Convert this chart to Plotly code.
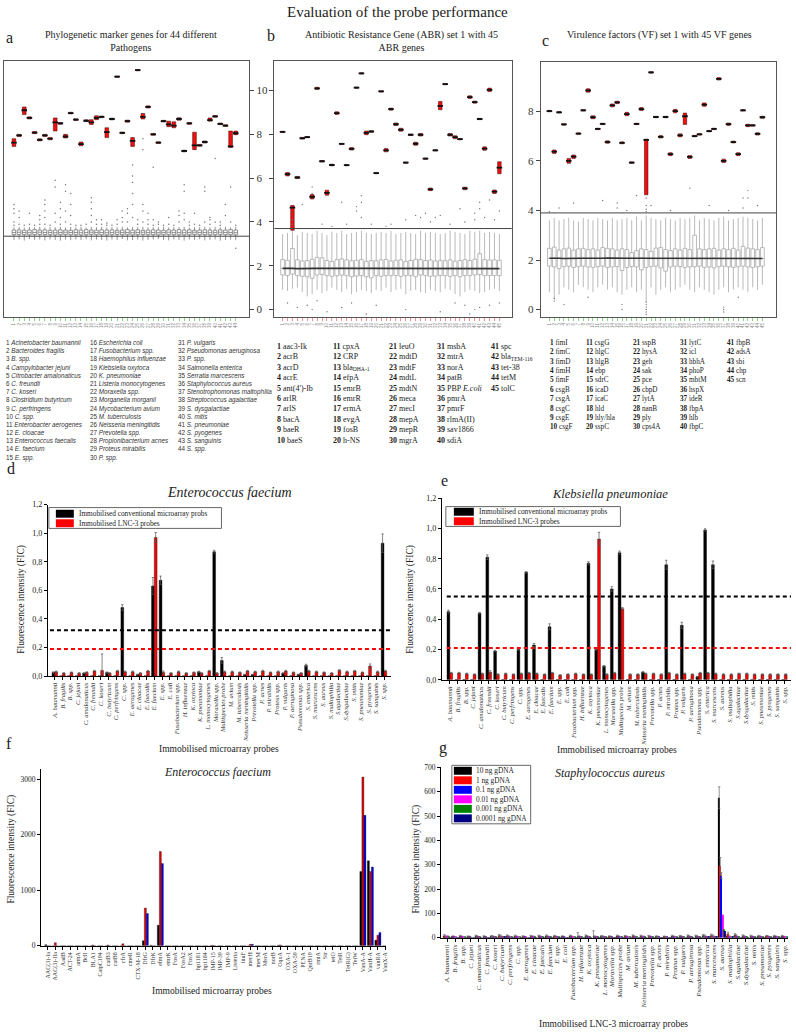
import plotly.graph_objects as go

W, H = 796, 1036
SERIF = "Liberation Serif"
SANS = "Liberation Sans"


def X(p):
    return p / W


def Y(p):
    return 1 - p / H


# ======================= DATA =======================
# ---- panel a : 44 pathogens (phylogenetic marker genes) ----
a_labels = [str(i) for i in range(1, 45)]
a_names = ["Acinetobacter baumannii", "Bacteroides fragilis", "B. spp.", "Campylobacter jejuni",
           "Citrobacter amalonaticus", "C. freundii", "C. koseri", "Clostridium butyricum",
           "C. perfringens", "C. spp.", "Enterobacter aerogenes", "E. cloacae",
           "Enterococcus faecalis", "E. faecium", "E. spp.", "Escherichia coli",
           "Fusobacterium spp.", "Haemophilus influenzae", "Klebsiella oxytoca", "K. pneumoniae",
           "Listeria monocytogenes", "Moraxella spp.", "Morganella morganii", "Mycobacterium avium",
           "M. tuberculosis", "Neisseria meningitidis", "Prevotella spp.", "Propionibacterium acnes",
           "Proteus mirabilis", "P. spp.", "P. vulgaris", "Pseudomonas aeruginosa", "P. spp.",
           "Salmonella enterica", "Serratia marcescens", "Staphylococcus aureus",
           "Stenotrophomonas maltophilia", "Streptococcus agalactiae", "S. dysgalactiae", "S. mitis",
           "S. pneumoniae", "S. pyogenes", "S. sanguinis", "S. spp."]
a_red_q1 = [7.45, 7.9, 8.9, 8.7, 8.03, 7.7, 7.9, 7.75, 8.15, 8.46, 7.83, 8.93, 8.63, 7.48, 8.58,
            8.45, 8.67, 8.76, 7.85, 8.66, 10.6, 8.03, 8.55, 7.45, 10.9, 8.7, 9.2, 7.96, 7.58, 8.56,
            8.35, 8.3, 8.64, 7.2, 8.46, 7.3, 7.46, 7.6, 8.6, 8.78, 8.44, 8.36, 7.4, 7.98]
a_red_med = [7.62, 7.95, 9.1, 8.75, 8.08, 7.75, 7.95, 7.8, 8.55, 8.5, 7.9, 8.97, 8.67, 7.55, 8.62,
             8.55, 8.75, 8.8, 8.1, 8.7, 10.63, 8.07, 8.6, 7.7, 10.93, 8.8, 9.25, 8.0, 7.62, 8.6,
             8.45, 8.4, 8.7, 7.24, 8.5, 7.5, 7.5, 7.65, 8.65, 8.82, 8.48, 8.4, 7.45, 8.05]
a_red_q3 = [7.8, 8.0, 9.25, 8.8, 8.13, 7.8, 8.0, 7.85, 8.75, 8.54, 8.0, 9.01, 8.71, 7.65, 8.66,
            8.67, 8.85, 8.84, 8.3, 8.74, 10.66, 8.11, 8.65, 7.85, 10.96, 8.95, 9.3, 8.04, 7.66, 8.64,
            8.6, 8.57, 8.76, 7.28, 8.54, 8.1, 7.54, 7.7, 8.75, 8.86, 8.52, 8.44, 8.15, 8.15]
a_grey_q1 = [3.42, 3.43, 3.42, 3.41, 3.42, 3.43, 3.42, 3.42, 3.41, 3.42, 3.43,
             3.42, 3.42, 3.41, 3.42, 3.43, 3.42, 3.42, 3.41, 3.42, 3.43, 3.42,
             3.42, 3.41, 3.42, 3.43, 3.42, 3.42, 3.41, 3.42, 3.43, 3.42, 3.42,
             3.41, 3.42, 3.43, 3.42, 3.42, 3.41, 3.42, 3.43, 3.42, 3.42, 3.41]
a_grey_med = [3.52, 3.53, 3.52, 3.51, 3.52, 3.53, 3.52, 3.52, 3.51, 3.52, 3.53,
              3.52, 3.52, 3.51, 3.52, 3.53, 3.52, 3.52, 3.51, 3.52, 3.53, 3.52,
              3.52, 3.51, 3.52, 3.53, 3.52, 3.52, 3.51, 3.52, 3.53, 3.52, 3.52,
              3.51, 3.52, 3.53, 3.52, 3.52, 3.51, 3.52, 3.53, 3.52, 3.52, 3.51]
a_grey_q3 = [3.63, 3.64, 3.62, 3.63, 3.65, 3.63, 3.64, 3.62, 3.63, 3.64, 3.63,
             3.62, 3.64, 3.63, 3.65, 3.63, 3.62, 3.64, 3.63, 3.64, 3.62, 3.63,
             3.65, 3.63, 3.64, 3.62, 3.63, 3.64, 3.63, 3.62, 3.64, 3.63, 3.65,
             3.63, 3.64, 3.62, 3.63, 3.64, 3.63, 3.62, 3.64, 3.63, 3.65, 3.63]
a_grey_lo = [3.18, 3.2, 3.15, 3.22, 3.18, 3.2, 3.16, 3.2, 3.18, 3.15, 3.2,
             3.17, 3.2, 3.18, 3.22, 3.16, 3.2, 3.18, 3.15, 3.2, 3.18, 3.22,
             3.16, 3.18, 3.2, 3.15, 3.18, 3.2, 3.22, 3.18, 3.16, 3.2, 3.18,
             3.15, 3.2, 3.18, 3.22, 3.16, 3.18, 3.2, 3.15, 3.18, 3.2, 3.17]
a_grey_hi = [3.76, 3.78, 3.75, 3.77, 3.76, 3.78, 3.75, 3.77, 3.76, 3.78, 3.75,
             3.77, 3.76, 3.78, 3.75, 3.77, 3.76, 3.78, 3.75, 3.77, 3.76, 3.78,
             3.75, 3.77, 3.76, 3.78, 3.75, 3.77, 3.76, 3.78, 3.75, 3.77, 3.76,
             3.78, 3.75, 3.77, 3.76, 3.78, 3.75, 3.77, 3.76, 3.78, 3.75, 3.77]
a_outliers = [[3.85, 4.0, 4.4, 4.6, 4.8], [3.9, 4.2, 4.5], [3.85], [3.9, 4.4], [3.85],
              [3.9, 4.1, 4.3], [3.9, 4.2, 4.5, 4.8, 5.0], [3.85], [4.0, 4.4, 5.6, 5.9],
              [3.9, 4.2, 4.6, 4.9], [4.0, 4.5, 5.4, 5.7], [3.9, 4.3, 4.8, 5.3], [3.85], [3.85],
              [3.9], [4.0, 4.3, 4.6, 4.9, 5.1], [3.9, 4.1], [3.9, 4.1], [3.85, 3.95], [3.85],
              [3.9, 4.1], [4.0, 4.2, 4.5], [4.0, 4.4, 4.6], [4.2, 4.8, 5.3, 5.8, 6.1, 6.6],
              [3.9, 4.1], [4.0, 4.5, 4.8, 7.3, 7.8], [3.9, 4.1, 4.4], [3.85, 4.1, 6.5],
              [3.9, 4.0], [3.85], [3.9, 4.2], [3.85], [4.0, 4.3, 4.5], [4.1, 4.4, 5.4, 5.7],
              [3.85, 4.0], [3.9, 4.4], [3.85], [4.0, 5.4, 5.6], [3.9, 4.1, 4.2], [4.0, 6.9],
              [3.85, 4.0], [4.3, 4.8], [4.0, 5.6], [3.85, 2.8]]
a_cutoff = 3.35

# ---- panel b : 45 ABR genes ----
b_labels = [str(i) for i in range(1, 46)]
b_names = ["aac3-Ik", "acrB", "acrD", "acrE", "ant(4')-Ib", "arlR", "arlS", "bacA", "baeR", "baeS",
           "cpxA", "CRP", "bla<sub>DHA-1</sub>", "efpA", "emrB", "emrR", "ermA", "evgA", "fosB", "h-NS",
           "leuO", "mdtD", "mdtF", "mdtL", "mdtN", "meca", "mecI", "mepA", "mepR", "mgrA",
           "msbA", "mtrA", "norA", "patB", "PBP <i>E.coli</i>", "pmrA", "pmrF", "rlmA(II)", "sav1866", "sdiA",
           "spc", "bla<sub>TEM-116</sub>", "tet-38", "tetM", "tolC"]
b_red_q1 = [8.08, 6.1, 3.62, 5.98, 7.79, 7.84, 5.05, 10.05, 6.74, 5.22, 6.56, 8.91, 7.53, 6.56, 7.28,
            10.1, 10.75, 7.98, 8.1, 6.2, 9.93, 7.2, 9.1, 8.4, 8.14, 6.68, 7.95, 7.5, 7.92, 6.86,
            5.43, 7.24, 9.12, 10.26, 7.92, 7.8, 7.75, 5.47, 9.64, 9.42, 8.67, 7.27, 9.95, 5.3, 6.2]
b_red_med = [8.11, 6.18, 4.65, 6.03, 7.82, 7.87, 5.15, 10.1, 6.77, 5.33, 6.6, 8.97, 7.56, 6.59, 7.34,
             10.13, 10.78, 8.07, 8.13, 6.23, 9.96, 7.27, 9.15, 8.46, 8.21, 6.71, 7.98, 7.57, 7.98, 6.89,
             5.49, 7.27, 9.3, 10.29, 7.98, 7.87, 7.78, 5.53, 9.7, 9.47, 8.7, 7.35, 10.03, 5.38, 6.48]
b_red_q3 = [8.14, 6.26, 4.75, 6.08, 7.86, 7.9, 5.25, 10.15, 6.8, 5.45, 6.64, 9.03, 7.59, 6.62, 7.4,
            10.16, 10.81, 8.15, 8.16, 6.26, 9.99, 7.35, 9.2, 8.52, 8.28, 6.74, 8.01, 7.64, 8.04, 6.92,
            5.55, 7.3, 9.5, 10.32, 8.04, 7.94, 7.81, 5.59, 9.76, 9.52, 8.73, 7.43, 10.11, 5.46, 6.75]
b_grey_q1 = [1.58, 1.55, 1.62, 1.55, 1.52, 1.5, 1.43, 1.58, 1.6, 1.55, 1.52, 1.55, 1.57, 1.55, 1.5,
             1.53, 1.55, 1.5, 1.45, 1.55, 1.52, 1.55, 1.55, 1.55, 1.52, 1.55, 1.55, 1.5, 1.58, 1.55,
             1.52, 1.53, 1.55, 1.55, 1.52, 1.55, 1.5, 1.55, 1.55, 1.58, 1.6, 1.55, 1.55, 1.55, 1.55]
b_grey_med = [1.88, 1.89, 1.88, 1.87, 1.88, 1.88, 1.89, 1.88, 1.88, 1.87, 1.88, 1.88, 1.89, 1.88, 1.88,
              1.87, 1.88, 1.88, 1.88, 1.89, 1.88, 1.88, 1.87, 1.88, 1.88, 1.88, 1.89, 1.88, 1.88, 1.87,
              1.88, 1.88, 1.88, 1.88, 1.89, 1.88, 1.87, 1.88, 1.88, 1.88, 1.88, 1.89, 1.88, 1.88, 1.87]
b_grey_q3 = [2.28, 2.25, 2.79, 2.27, 2.22, 2.24, 2.3, 2.38, 2.36, 2.24, 2.2, 2.28, 2.31, 2.27, 2.23,
             2.25, 2.28, 2.2, 2.24, 2.23, 2.27, 2.29, 2.22, 2.25, 2.27, 2.2, 2.24, 2.3, 2.28, 2.24,
             2.26, 2.22, 2.25, 2.23, 2.27, 2.21, 2.24, 2.28, 2.24, 2.3, 2.55, 2.28, 2.26, 2.27, 2.25]
b_grey_lo = [0.9, 0.85, 0.95, 1.0, 0.8, 0.6, 0.7, 0.9, 0.75, 0.85, 1.0, 0.9, 0.8, 0.95, 0.7,
             0.8, 0.9, 0.85, 0.75, 0.9, 0.85, 1.0, 0.8, 0.9, 0.95, 0.7, 0.85, 0.9, 0.8, 0.75,
             0.9, 0.85, 0.8, 0.95, 0.9, 0.7, 0.6, 0.8, 0.9, 0.85, 0.75, 0.8, 0.9, 0.95, 0.85]
b_grey_hi = [3.45, 3.5, 3.6, 3.4, 3.55, 3.5, 3.45, 3.6, 3.5, 3.4, 3.55, 3.5, 3.6, 3.45, 3.5,
             3.55, 3.6, 3.5, 3.45, 3.5, 3.55, 3.5, 3.6, 3.45, 3.5, 3.55, 3.5, 3.45, 3.6, 3.5,
             3.55, 3.5, 3.45, 3.5, 3.6, 3.55, 3.5, 3.45, 3.6, 3.55, 3.6, 3.5, 3.55, 3.5, 3.45]
b_out_cat = [3, 3, 5, 7, 7, 9, 11, 13, 14, 16, 16, 17, 17, 17, 19, 22, 23, 26, 28, 29, 30, 31, 32, 33,
             35, 37, 38, 40, 40, 41, 41, 42, 43, 44, 45,
             2, 4, 6, 7, 8, 10, 13, 15, 18, 20, 26, 33, 36, 38, 39, 40, 41, 43, 45]
b_out_val = [3.9, 4.1, 4.8, 5.3, 5.6, 3.9, 3.8, 4.9, 3.9, 4.7, 4.5, 4.2, 4.9, 5.2, 3.9, 3.8, 3.9, 4.1,
             4.3, 4.2, 4.4, 4.0, 4.2, 4.3, 3.9, 4.6, 4.0, 4.1, 4.4, 4.6, 4.9, 4.2, 5.0, 4.1, 4.5,
             0.3, 0.1, 0.2, 0.0, 0.4, -0.1, 0.1, 0.3, -0.2, 0.2, 0.0, -0.1, 0.3, 0.2, -0.2, 0.0, 0.1, 0.2, 0.3]
b_cutoff = 3.7

# ---- panel c : 45 VF genes ----
c_labels = [str(i) for i in range(1, 46)]
c_names = ["fimI", "fimC", "fimD", "fimH", "fimF", "csgB", "csgA", "csgC", "csgE", "csgF",
           "csgG", "hlgC", "hlgB", "ebp", "sdrC", "icaD", "icaC", "hld", "hly/hla", "sspC",
           "sspB", "hysA", "geh", "sak", "pce", "cbpD", "lytA", "nanB", "ply", "cps4A",
           "lytC", "icl", "hbhA", "phoP", "mbtM", "hspX", "ideR", "fbpA", "hlb", "fbpC",
           "fbpB", "adsA", "sbi", "chp", "scn"]
c_red_q1 = [7.98, 6.3, 7.93, 7.44, 5.9, 6.1, 7.07, 8.01, 8.77, 7.7, 7.26, 7.46, 6.71, 8.18, 8.31,
            6.69, 7.82, 5.9, 7.46, 8.03, 4.63, 9.54, 7.74, 6.92, 7.74, 6.21, 7.94, 6.97, 7.47, 6.1,
            6.97, 7.04, 8.2, 7.17, 7.26, 9.26, 5.93, 7.43, 6.72, 6.21, 8.01, 7.38, 7.4, 7.04, 7.72]
c_red_med = [8.01, 6.37, 7.96, 7.47, 6.0, 6.17, 7.1, 8.04, 8.84, 7.76, 7.29, 7.49, 6.76, 8.24, 8.36,
             6.73, 7.89, 5.93, 7.49, 8.09, 6.85, 9.57, 7.77, 6.97, 7.77, 6.27, 8.01, 7.03, 7.8, 6.16,
             7.0, 7.07, 8.27, 7.2, 7.29, 9.31, 6.0, 7.48, 6.76, 6.27, 8.04, 7.43, 7.43, 7.09, 7.76]
c_red_q3 = [8.04, 6.44, 7.99, 7.5, 6.1, 6.24, 7.13, 8.07, 8.91, 7.82, 7.32, 7.52, 6.81, 8.3, 8.41,
            6.77, 7.96, 5.96, 7.52, 8.15, 6.88, 9.6, 7.8, 7.02, 7.8, 6.33, 8.08, 7.09, 7.93, 6.22,
            7.03, 7.1, 8.34, 7.23, 7.32, 9.36, 6.07, 7.53, 6.8, 6.33, 8.07, 7.48, 7.46, 7.14, 7.8]
c_grey_q1 = [1.75, 1.72, 1.65, 1.73, 1.75, 1.7, 1.73, 1.75, 1.72, 1.7, 1.73, 1.75, 1.7, 1.72, 1.73,
             1.58, 1.7, 1.73, 1.72, 1.6, 1.7, 1.73, 1.75, 1.68, 1.55, 1.72, 1.75, 1.73, 1.7, 1.72,
             1.73, 1.75, 1.7, 1.72, 1.68, 1.73, 1.75, 1.72, 1.7, 1.73, 1.75, 1.72, 1.7, 1.73, 1.75]
c_grey_med = [2.07, 2.08, 2.07, 2.06, 2.07, 2.07, 2.08, 2.07, 2.07, 2.06, 2.07, 2.07, 2.08, 2.07, 2.07,
              2.06, 2.07, 2.07, 2.07, 2.08, 2.07, 2.07, 2.06, 2.07, 2.07, 2.07, 2.08, 2.07, 2.07, 2.06,
              2.07, 2.07, 2.07, 2.07, 2.08, 2.07, 2.06, 2.07, 2.07, 2.07, 2.07, 2.08, 2.07, 2.07, 2.06]
c_grey_q3 = [2.47, 2.52, 2.4, 2.45, 2.48, 2.4, 2.45, 2.47, 2.42, 2.45, 2.4, 2.5, 2.47, 2.45, 2.4,
             2.45, 2.42, 2.3, 2.38, 2.45, 2.42, 2.35, 2.48, 2.5, 2.42, 2.38, 2.45, 2.4, 2.47, 2.42,
             3.0, 2.45, 2.42, 2.45, 2.47, 2.4, 2.45, 2.42, 2.47, 2.4, 2.55, 2.48, 2.45, 2.42, 2.5]
c_grey_lo = [0.7, 0.4, 0.6, 0.9, 0.8, 0.7, 1.0, 0.9, 0.8, 0.7, 0.9, 1.0, 0.8, 0.9, 0.7,
             0.6, 0.8, 0.9, 0.7, 0.8, 0.3, 0.9, 0.6, 0.8, 0.9, 0.7, 0.8, 0.9, 1.0, 0.8,
             0.7, 0.9, 0.8, 0.7, 0.6, 0.8, 0.9, 0.7, 0.8, 0.9, 0.8, 0.7, 0.9, 0.8, 1.0]
c_grey_hi = [3.6, 3.7, 3.6, 3.65, 3.7, 3.6, 3.55, 3.7, 3.65, 3.6, 3.7, 3.65, 3.6, 3.7, 3.6,
             3.65, 3.7, 3.6, 3.75, 3.6, 3.8, 3.7, 3.65, 3.6, 3.7, 3.65, 3.6, 3.7, 3.65, 3.7,
             3.8, 3.6, 3.7, 3.65, 3.6, 3.7, 3.75, 3.6, 3.65, 3.7, 3.75, 3.7, 3.65, 3.6, 3.7]
c_out_cat = [21, 21, 21, 21, 21, 21, 21, 21, 21, 21, 2, 2, 4, 9, 16, 16, 37, 37, 37, 40,
             1, 3, 6, 12, 15, 15, 17, 19, 22, 26, 30, 34, 38, 41, 41, 42, 42, 44]
c_out_val = [0.0, 0.1, 0.2, -0.1, 3.95, 4.05, 4.2, 4.5, 0.3, -0.2, 0.35, 0.45, 0.2, 0.5, 0.2, 0.0,
             0.0, -0.1, 0.1, 0.5,
             3.95, 4.1, 4.3, 4.4, 4.1, 4.3, 4.0, 4.6, 4.2, 4.0, 4.9, 4.2, 4.0, 4.1, 4.5, 4.5, 4.8, 4.2]
c_cutoff = 3.9

# ---- panels d, e, g : 44 probe targets ----
probe_names = ["A. baumannii", "B. fragilis", "B. spp.", "C. jejuni", "C. amalonaticus", "C. freundii",
               "C. koseri", "C. butyricum", "C. perfringens", "C. spp.", "E. aerogenes", "E. cloacae",
               "E. faecalis", "E. faecium", "E. spp.", "E. coli", "Fusobacterium spp.", "H. influenzae",
               "K. oxytoca", "K. pneumoniae", "L. monocytogenes", "Moraxella spp.", "Multispecies probe",
               "M. avium", "M. tuberculosis", "Neisseria meningitidis", "Prevotella spp.", "P. acnes",
               "P. mirabilis", "Proteus spp.", "P. vulgaris", "P. aeruginosa", "Pseudomonas spp.",
               "S. enterica", "S. marcescens", "S. aureus", "S. maltophilia", "S.agalactiae",
               "S.dysgalactiae", "S. mitis", "S. pneumoniae", "S. pyogenes", "S. sanguinis", "S. spp."]
probe_series = ["Immobilised conventional microarray probs", "Immobilised LNC-3 probes"]

d_black = [0.025, 0, 0, 0, 0.02, 0, 0, 0.025, 0, 0.48,
           0, 0.01, 0, 0.63, 0.67, 0, 0, 0, 0, 0.03,
           0, 0.87, 0.11, 0, 0, 0.01, 0.01, 0, 0, 0,
           0.02, 0, 0.01, 0.075, 0, 0, 0, 0, 0, 0,
           0, 0, 0, 0.93]
d_red = [0.03, 0.02, 0.025, 0.02, 0.025, 0.035, 0.04, 0.02, 0.035, 0.03,
         0.03, 0.02, 0.035, 0.97, 0.025, 0.02, 0.03, 0.02, 0.025, 0.02,
         0.035, 0.02, 0.03, 0.03, 0.025, 0.035, 0.03, 0.035, 0.025, 0.03,
         0.035, 0.025, 0.02, 0.035, 0.03, 0.025, 0.02, 0.04, 0.03, 0.035,
         0.025, 0.07, 0.03, 0.035]
d_err_black = [0.005, 0, 0, 0, 0.004, 0, 0, 0.004, 0, 0.02,
               0, 0.003, 0, 0.06, 0.03, 0, 0, 0, 0, 0.004,
               0, 0.01, 0.02, 0, 0, 0.003, 0.003, 0, 0, 0,
               0.004, 0, 0.003, 0.008, 0, 0, 0, 0, 0, 0,
               0, 0, 0, 0.065]
d_err_red = [0.005, 0.004, 0.004, 0.004, 0.005, 0.005, 0.115, 0.004, 0.005, 0.005,
             0.005, 0.004, 0.005, 0.035, 0.01, 0.004, 0.005, 0.004, 0.004, 0.004,
             0.005, 0.004, 0.005, 0.005, 0.004, 0.005, 0.005, 0.006, 0.004, 0.005,
             0.005, 0.004, 0.004, 0.005, 0.005, 0.004, 0.004, 0.005, 0.005, 0.005,
             0.004, 0.015, 0.005, 0.006]
d_thresholds = [0.32, 0.19]

e_black = [0.45, 0, 0, 0, 0.44, 0.81, 0.19, 0, 0, 0.20,
           0.71, 0.23, 0, 0.35, 0, 0, 0, 0, 0.77, 0.20,
           0.09, 0.60, 0.84, 0, 0, 0.05, 0, 0, 0.76, 0,
           0.36, 0, 0.02, 0.99, 0.76, 0, 0, 0, 0, 0,
           0, 0, 0, 0]
e_red = [0.045, 0.045, 0.04, 0.035, 0.04, 0.05, 0.035, 0.04, 0.035, 0.04,
         0.045, 0.04, 0.035, 0.045, 0.03, 0.035, 0.04, 0.035, 0.035, 0.93,
         0.035, 0.045, 0.47, 0.035, 0.035, 0.04, 0.04, 0.035, 0.045, 0.035,
         0.04, 0.035, 0.045, 0.045, 0.04, 0.035, 0.035, 0.04, 0.04, 0.035,
         0.035, 0.035, 0.035, 0.035]
e_err_black = [0.01, 0, 0, 0, 0.005, 0.015, 0.005, 0, 0, 0.005,
               0.005, 0.01, 0, 0.02, 0, 0, 0, 0, 0.01, 0.005,
               0.005, 0.015, 0.01, 0, 0, 0.004, 0, 0, 0.03, 0,
               0.02, 0, 0.003, 0.008, 0.025, 0, 0, 0, 0, 0,
               0, 0, 0, 0]
e_err_red = [0.004, 0.004, 0.004, 0.004, 0.004, 0.01, 0.004, 0.004, 0.004, 0.004,
             0.004, 0.004, 0.004, 0.004, 0.004, 0.004, 0.004, 0.004, 0.004, 0.045,
             0.004, 0.004, 0.008, 0.004, 0.004, 0.004, 0.004, 0.004, 0.004, 0.004,
             0.004, 0.004, 0.004, 0.004, 0.004, 0.004, 0.004, 0.004, 0.004, 0.004,
             0.004, 0.004, 0.004, 0.004]
e_thresholds = [0.55, 0.21]

# ---- panel f : 46 resistance-gene probes ----
f_names = ["AAC(3)-Ia", "AAC(3)-IIa", "AadB", "ACT-24", "armA", "BcII", "BLA1", "CatpC194", "catB3",
           "catB8", "cfrA", "cmeR", "CTX-M-18", "DfrG", "DfrK", "efmA", "emrK", "FosA", "FosA2", "FosX",
           "hp1181", "hp1184", "IMP-15", "IMP-39", "IMP-9", "Listeria", "lnuF", "mecH", "mecM", "MsrA",
           "norB", "OqxA", "OXA-1", "OXA-59", "PENA", "QnrB19", "rmtA", "Str", "tetO", "TetR",
           "TetR(G)", "TetW", "VanA-A", "VanH-A", "vanRA", "VanX-A"]
f_black = [20, 0, 0, 0, 0, 0, 0, 0, 0, 0,
           0, 0, 0, 90, 10, 370, 0, 0, 0, 0,
           0, 0, 5, 0, 0, 0, 0, 0, 0, 0,
           0, 10, 0, 0, 0, 0, 0, 0, 0, 0,
           0, 0, 1340, 1530, 100, 0]
f_red = [0, 55, 0, 0, 0, 0, 15, 0, 15, 0,
         35, 0, 0, 680, 0, 1700, 0, 0, 0, 0,
         0, 0, 8, 0, 0, 0, 0, 25, 0, 0,
         0, 15, 0, 0, 0, 0, 0, 0, 0, 0,
         0, 0, 3040, 1340, 190, 0]
f_blue = [0, 0, 0, 0, 0, 0, 0, 0, 0, 0,
          0, 0, 0, 580, 0, 1480, 0, 0, 0, 0,
          0, 0, 0, 0, 0, 0, 0, 25, 0, 0,
          0, 0, 0, 0, 0, 0, 0, 0, 0, 0,
          0, 0, 2350, 1420, 240, 0]

# ---- panel g : dilution series, S. aureus ----
g_series = ["10 ng gDNA", "1 ng gDNA", "0.1 ng gDNA", "0.01 ng gDNA", "0.001 ng gDNA", "0.0001 ng gDNA"]
g_10 = [8, 3, 6, 4, 7, 5, 6, 9, 8, 7, 5, 6, 7, 8, 6, 5, 7, 6, 8, 7, 6, 5,
        7, 6, 8, 7, 6, 5, 4, 7, 6, 8, 7, 9, 10, 575, 7, 12, 8, 7, 6, 5, 6, 7]
g_1 = [6, 5, 5, 4, 6, 4, 5, 7, 6, 5, 4, 5, 6, 5, 5, 4, 6, 5, 6, 5, 5, 4,
       6, 5, 6, 5, 5, 4, 3, 5, 5, 6, 6, 7, 8, 295, 18, 9, 6, 5, 5, 7, 5, 5]
g_01 = [4, 3, 4, 3, 4, 3, 4, 5, 4, 4, 3, 4, 4, 4, 4, 3, 4, 4, 5, 4, 4, 3,
        4, 4, 4, 4, 4, 3, 3, 4, 4, 4, 4, 5, 6, 255, 6, 5, 4, 4, 4, 4, 4, 3]
g_001 = [10, 3, 3, 2, 3, 2, 3, 4, 3, 3, 3, 8, 3, 3, 3, 2, 3, 3, 3, 3, 3, 2,
         3, 3, 3, 8, 3, 2, 2, 3, 3, 3, 3, 4, 4, 95, 5, 4, 3, 3, 3, 3, 3, 3]
g_0001 = [3, 2, 3, 2, 3, 2, 3, 3, 3, 3, 2, 3, 3, 3, 3, 2, 3, 3, 3, 3, 3, 2,
          3, 3, 3, 3, 3, 2, 2, 3, 3, 3, 3, 3, 4, 35, 4, 3, 3, 3, 3, 3, 3, 3]
g_00001 = [2, 2, 2, 2, 2, 2, 2, 3, 2, 2, 2, 2, 2, 2, 2, 2, 2, 2, 2, 2, 2, 2,
           2, 2, 2, 2, 2, 2, 2, 2, 2, 2, 2, 3, 3, 28, 3, 2, 2, 2, 2, 2, 2, 2]
g_err_10 = [5, 3, 4, 3, 4, 3, 4, 5, 4, 4, 3, 4, 4, 4, 4, 3, 4, 15, 4, 22, 4, 3,
            4, 4, 4, 4, 4, 3, 3, 4, 4, 4, 4, 5, 5, 45, 5, 5, 4, 4, 4, 4, 4, 3]
g_err_1 = [3, 3, 3, 3, 3, 3, 3, 4, 3, 3, 3, 3, 3, 3, 3, 3, 3, 3, 3, 3, 3, 3,
           3, 3, 3, 3, 3, 3, 3, 3, 3, 3, 3, 4, 4, 35, 5, 4, 3, 3, 3, 3, 3, 3]
g_err_01 = [2, 2, 2, 2, 2, 2, 2, 2, 2, 2, 2, 2, 2, 2, 2, 2, 2, 2, 2, 2, 2, 2,
            2, 2, 2, 2, 2, 2, 2, 2, 2, 2, 2, 2, 2, 12, 2, 2, 2, 2, 2, 2, 2, 2]

for arr in [a_red_q1, a_red_med, a_red_q3, a_grey_q1, a_grey_med, a_grey_q3, a_grey_lo, a_grey_hi, a_outliers]:
    assert len(arr) == 44, len(arr)
for arr in [b_red_q1, b_red_med, b_red_q3, b_grey_q1, b_grey_med, b_grey_q3, b_grey_lo, b_grey_hi,
            c_red_q1, c_red_med, c_red_q3, c_grey_q1, c_grey_med, c_grey_q3, c_grey_lo, c_grey_hi]:
    assert len(arr) == 45, len(arr)
for arr in [d_black, d_red, d_err_black, d_err_red, e_black, e_red, e_err_black, e_err_red,
            g_10, g_1, g_01, g_001, g_0001, g_00001, g_err_10, g_err_1, g_err_01, probe_names]:
    assert len(arr) == 44, len(arr)
for arr in [f_black, f_red, f_blue, f_names]:
    assert len(arr) == 46, len(arr)
assert len(b_out_cat) == len(b_out_val) and len(c_out_cat) == len(c_out_val)

# ======================= FIGURE =======================
fig = go.Figure()
RED = "#f01010"


def boxes(xa, ya, pos, q1, med, q3, lo, hi, fill, line, w, lw=0.8):
    fig.add_trace(go.Box(x=pos, q1=q1, median=med, q3=q3, lowerfence=lo, upperfence=hi,
                         xaxis=xa, yaxis=ya, orientation="v", fillcolor=fill,
                         line=dict(color=line, width=lw), width=w, whiskerwidth=0,
                         boxpoints=False, hoverinfo="skip", showlegend=False))


def medians(xa, ya, pos, med, size):
    fig.add_trace(go.Scatter(x=pos, y=med, xaxis=xa, yaxis=ya, mode="markers",
                             marker=dict(symbol="line-ew", size=size, line=dict(color="#111", width=1.8)),
                             hoverinfo="skip", showlegend=False))


def dots(xa, ya, xs, ys, size=1.5, color="#777"):
    fig.add_trace(go.Scatter(x=xs, y=ys, xaxis=xa, yaxis=ya, mode="markers",
                             marker=dict(size=size, color=color), hoverinfo="skip", showlegend=False))


# panel a
a_pos = list(range(len(a_labels)))
boxes("x", "y", a_pos, a_grey_q1, a_grey_med, a_grey_q3, a_grey_lo, a_grey_hi, "white", "#7a7a7a", 0.7)
ax, ay = [], []
for i, vals in enumerate(a_outliers):
    for v in vals:
        ax.append(i)
        ay.append(v)
dots("x", "y", ax, ay)
boxes("x", "y", a_pos, a_red_q1, a_red_med, a_red_q3, a_red_q1, a_red_q3, RED, "#3a0000", 0.72, 0.5)
medians("x", "y", a_pos, a_red_med, 4)

# panel b
b_pos = list(range(len(b_labels)))
boxes("x2", "y2", b_pos, b_grey_q1, b_grey_med, b_grey_q3, b_grey_lo, b_grey_hi, "white", "#a8a8a8", 0.75)
fig.add_trace(go.Scatter(x=b_pos, y=b_grey_med, xaxis="x2", yaxis="y2", mode="lines",
                         line=dict(color="#333", width=1.6), hoverinfo="skip", showlegend=False))
dots("x2", "y2", [c - 1 for c in b_out_cat], b_out_val, size=1.4, color="#777")
boxes("x2", "y2", b_pos, b_red_q1, b_red_med, b_red_q3, b_red_q1, b_red_q3, RED, "#3a0000", 0.72, 0.5)
medians("x2", "y2", b_pos, b_red_med, 4)

# panel c
c_pos = list(range(len(c_labels)))
boxes("x3", "y4", c_pos, c_grey_q1, c_grey_med, c_grey_q3, c_grey_lo, c_grey_hi, "white", "#a8a8a8", 0.75)
fig.add_trace(go.Scatter(x=c_pos, y=c_grey_med, xaxis="x3", yaxis="y4", mode="lines",
                         line=dict(color="#333", width=1.6), hoverinfo="skip", showlegend=False))
dots("x3", "y4", [c - 1 for c in c_out_cat], c_out_val, size=1.4, color="#777")
boxes("x3", "y4", c_pos, c_red_q1, c_red_med, c_red_q3, c_red_q1, c_red_q3, RED, "#3a0000", 0.72, 0.5)
medians("x3", "y4", c_pos, c_red_med, 4)


def bar(xa, ya, vals, color, w, off, err=None, lw=0.4, ecolor="#555"):
    kw = {}
    if err is not None:
        kw["error_y"] = dict(type="data", array=err, visible=True, color=ecolor, thickness=0.7, width=1.2)
    fig.add_trace(go.Bar(x=list(range(len(vals))), y=vals, xaxis=xa, yaxis=ya, width=w, offset=off,
                         marker=dict(color=color, line=dict(color="black", width=lw)),
                         hoverinfo="skip", showlegend=False, **kw))


# panel d
bar("x4", "y6", d_black, "black", 0.36, -0.37, d_err_black)
bar("x4", "y6", d_red, "#ff0000", 0.36, -0.01, d_err_red)
# panel e
bar("x5", "y7", e_black, "black", 0.36, -0.37, e_err_black)
bar("x5", "y7", e_red, "#ff0000", 0.36, -0.01, e_err_red)
# panel f
bar("x6", "y8", f_black, "black", 0.27, -0.41, lw=0.3)
bar("x6", "y8", f_red, "#dd0000", 0.27, -0.14, lw=0.3)
bar("x6", "y8", f_blue, "#0000dd", 0.27, 0.13, lw=0.3)
# panel g
g_colors = ["#000000", "#ff0000", "#0000ff", "#ff00ff", "#008000", "#000080"]
g_vals = [g_10, g_1, g_01, g_001, g_0001, g_00001]
g_errs = [g_err_10, g_err_1, g_err_01, None, None, None]
for k in range(6):
    bar("x7", "y9", g_vals[k], g_colors[k], 0.145, -0.44 + 0.145 * k, g_errs[k], lw=0, ecolor="#666")

# ---------------- axes ----------------
frame = dict(showgrid=False, zeroline=False, showline=True, linecolor="#555", linewidth=1,
             mirror=True, ticks="outside")
open_ax = dict(showgrid=False, zeroline=False, showline=True, linecolor="black", linewidth=1,
               mirror=False, ticks="outside", tickcolor="black")
num_font = dict(size=4.5, color="#888", family=SANS)
ytick_font = dict(size=11, family=SERIF, color="#333")
comma = ["0,0", "0,2", "0,4", "0,6", "0,8", "1,0", "1,2"]
fr_vals = [0, 0.2, 0.4, 0.6, 0.8, 1.0, 1.2]
cat_font = dict(size=6.5, family=SERIF, color="#333", style="italic")

fig.update_layout(
    width=W, height=H, margin=dict(l=0, r=0, t=0, b=0),
    paper_bgcolor="white", plot_bgcolor="white", showlegend=False,
    barmode="overlay", boxmode="overlay",
    # a
    xaxis=dict(domain=[X(4), X(250)], range=[-1.93, 45.64], anchor="y", tickvals=a_pos, ticktext=a_labels,
               tickangle=-90, tickfont=num_font, tickcolor="#86d686", ticklen=3, **frame),
    yaxis=dict(domain=[Y(316), Y(57)], range=[-0.35, 11.37], anchor="x", side="right",
               tickvals=[0, 2, 4, 6, 8, 10], tickfont=ytick_font, ticklen=4, tickcolor="#444", **frame),
    # b
    xaxis2=dict(domain=[X(275), X(513)], range=[-1.68, 46.5], anchor="y2", tickvals=b_pos, ticktext=b_labels,
                tickangle=-90, tickfont=num_font, tickcolor="#f09090", ticklen=3, **frame),
    yaxis2=dict(domain=[Y(316), Y(57)], range=[-0.35, 11.37], anchor="x2", side="left",
                tickvals=[0, 2, 4, 6, 8, 10], showticklabels=False, ticklen=4, tickcolor="#444", **frame),
    yaxis3=dict(overlaying="y2", anchor="x2", side="right", range=[-0.32, 10.04], tickvals=[0, 2, 4, 6, 8],
                showticklabels=False, ticks="outside", ticklen=4, tickcolor="#444", showgrid=False,
                zeroline=False, showline=False),
    # c
    xaxis3=dict(domain=[X(542), X(778)], range=[-1.81, 46.82], anchor="y4", tickvals=c_pos, ticktext=c_labels,
                tickangle=-90, tickfont=num_font, tickcolor="#86d686", ticklen=3, **frame),
    yaxis4=dict(domain=[Y(316), Y(59)], range=[-0.31, 9.97], anchor="x3", side="left",
                tickvals=[0, 2, 4, 6, 8], tickfont=ytick_font, ticklen=4, tickcolor="#444", **frame),
    yaxis5=dict(overlaying="y4", anchor="x3", side="right", range=[-0.24, 8.55], tickvals=[0, 2, 4, 6, 8],
                tickfont=ytick_font, ticks="outside", ticklen=4, tickcolor="#444", showgrid=False,
                zeroline=False, showline=False),
    # d
    xaxis4=dict(domain=[X(48), X(392)], range=[-0.91, 43.91], anchor="y6", tickvals=list(range(44)),
                ticktext=probe_names, tickangle=-90, tickfont=cat_font, ticklen=3, **open_ax),
    yaxis6=dict(domain=[Y(678), Y(505)], range=[0, 1.2], anchor="x4", tickvals=fr_vals, ticktext=comma,
                tickfont=dict(size=8, family=SERIF, color="#222"), ticklen=3, **open_ax),
    # e
    xaxis5=dict(domain=[X(443), X(793)], range=[-1.03, 43.85], anchor="y7", tickvals=list(range(44)),
                ticktext=probe_names, tickangle=-90, tickfont=cat_font, ticklen=3, **open_ax),
    yaxis7=dict(domain=[Y(681.7), Y(498.5)], range=[0, 1.2], anchor="x5", tickvals=fr_vals, ticktext=comma,
                tickfont=dict(size=8, family=SERIF, color="#222"), ticklen=3, **open_ax),
    # f
    xaxis6=dict(domain=[X(41), X(387)], range=[-0.93, 45.08], anchor="y8", tickvals=list(range(46)),
                ticktext=f_names, tickangle=-90, tickfont=dict(size=6, family=SERIF, color="#333"),
                ticklen=3, **open_ax),
    yaxis8=dict(domain=[Y(950), Y(772)], range=[0, 3180], anchor="x6", tickvals=[0, 1000, 2000, 3000],
                tickfont=dict(size=7.5, family=SERIF, color="#222"), ticklen=3, **open_ax),
    # g
    xaxis7=dict(domain=[X(442), X(790)], range=[-0.8, 43.4], anchor="y9", tickvals=list(range(44)),
                ticktext=probe_names, tickangle=-90, tickfont=dict(size=7, family=SERIF, color="#333",
                                                                 style="italic"),
                ticklen=3, **open_ax),
    yaxis9=dict(domain=[Y(942), Y(770)], range=[0, 700], anchor="x7",
                tickvals=[0, 100, 200, 300, 400, 500, 600, 700],
                tickfont=dict(size=7.5, family=SERIF, color="#222"), ticklen=3, **open_ax),
)

# cut-off lines in a/b/c
for yref, xref, val in [("y", "x domain", a_cutoff), ("y2", "x2 domain", b_cutoff), ("y4", "x3 domain", c_cutoff)]:
    fig.add_shape(type="line", xref=xref, yref=yref, x0=0, x1=1, y0=val, y1=val,
                  line=dict(color="#444", width=1))
# threshold dashed lines d/e
for xref, yref, vals, x0 in [("x4 domain", "y6", d_thresholds, 0.006), ("x5 domain", "y7", e_thresholds, 0.014)]:
    for val, col in zip(vals, ["black", "#ff0000"]):
        fig.add_shape(type="line", xref=xref, yref=yref, x0=x0, x1=1, y0=val, y1=val,
                      line=dict(color=col, width=2, dash="4px,3px"))

# ---------------- text ----------------
ann = []


def text(t, x, y, size, family=SERIF, xa="center", ya="middle", angle=0, color="#222", align="center"):
    ann.append(dict(text=t, x=X(x), y=Y(y), xref="paper", yref="paper", showarrow=False,
                    xanchor=xa, yanchor=ya, textangle=angle, align=align,
                    font=dict(size=size, family=family, color=color)))


text("Evaluation of the probe performance", 398, 8, 15)
text("a", 4, 34, 16, xa="left")
text("Phylogenetic marker genes for 44 different<br>Pathogens", 131, 37, 10)
text("b", 266, 32, 16, xa="left")
text("Antibiotic Resistance Gene (ABR) set 1 with 45<br>ABR genes", 403, 37, 10)
text("c", 541, 37, 16, xa="left")
text("Virulence factors (VF) set 1 with 45 VF genes", 661, 31, 10)

# gene / pathogen lists
cols_a = [(4, 0, 15), (88, 15, 30), (176, 30, 44)]
for x0, i0, i1 in cols_a:
    t = "<br>".join(f"{i + 1} <i>{a_names[i]}</i>" for i in range(i0, i1))
    text(t, x0, 336, 6.3, family=SANS, xa="left", ya="top", align="left", color="#333")
for x0, i0 in zip([276, 332, 388, 436, 490], [0, 10, 20, 30, 40]):
    t = "<br>".join(f"<b>{i + 1}</b> {b_names[i]}" for i in range(i0, min(i0 + 10, 45)))
    text(t, x0, 339, 8, xa="left", ya="top", align="left", color="#222")
for x0, i0 in zip([549, 585, 633, 680, 727], [0, 10, 20, 30, 40]):
    t = "<br>".join(f"<b>{i + 1}</b> {c_names[i]}" for i in range(i0, min(i0 + 10, 45)))
    text(t, x0, 335.5, 7.2, xa="left", ya="top", align="left", color="#222")

# d
text("d", 5, 469, 16, xa="left")
text("<i>Enterococcus faecium</i>", 230, 493, 14)
text("Fluorescence intensity (FIC)", 22, 600, 9.5, angle=-90)
text("Immobilised microarray probes", 220, 752, 9.5)
# e
text("e", 440, 481, 16, xa="left")
text("<i>Klebsiella pneumoniae</i>", 612, 494, 12.5)
text("Fluorescence intensity (FIC)", 412, 600, 9.5, angle=-90)
text("Immobilised microarray probes", 619, 753, 9.5)
# f
text("f", 4, 746, 16, xa="left")
text("<i>Enterococcus faecium</i>", 218, 775, 12)
text("Fluorescence intensity (FIC)", 12, 852, 9.5, angle=-90)
text("Immobilised microarray probes", 213, 996, 9.5)
# g
text("g", 438, 751, 16, xa="left")
text("<i>Staphylococcus aureus</i>", 612, 776, 12)
text("Fluorescence intensity (FIC)", 418, 862, 9.5, angle=-90)
text("Immobilised LNC-3 microarray probes", 615, 1029, 9.5)


# manual legends
def legend(box, names, colors, row0, step, sw, tx, size):
    x0, y0, x1, y1 = box
    fig.add_shape(type="rect", xref="paper", yref="paper", x0=X(x0), x1=X(x1), y0=Y(y1), y1=Y(y0),
                  line=dict(color="#666", width=1), fillcolor="white", layer="above")
    for k, (nm, col) in enumerate(zip(names, colors)):
        cy = row0 + k * step
        fig.add_shape(type="rect", xref="paper", yref="paper", x0=X(sw[0]), x1=X(sw[1]),
                      y0=Y(cy + 4), y1=Y(cy - 4), line=dict(width=0), fillcolor=col, layer="above")
        text(nm, tx, cy, size, xa="left", color="#222")


legend((49, 508, 222, 529), probe_series, ["black", "#ff0000"], 514.2, 9.6, (56, 74), 77, 7.3)
legend((447, 507, 622, 527), probe_series, ["black", "#ff0000"], 512.2, 9.6, (455, 475), 478, 7.3)
legend((453, 768, 532, 827), g_series, g_colors, 773.5, 9.6, (455, 473), 475, 7.3)

fig.update_layout(annotations=ann)
fig.write_html("out.html", config={"displayModeBar": False},
               post_script="document.body.style.margin='0px';document.body.style.overflow='hidden';")
